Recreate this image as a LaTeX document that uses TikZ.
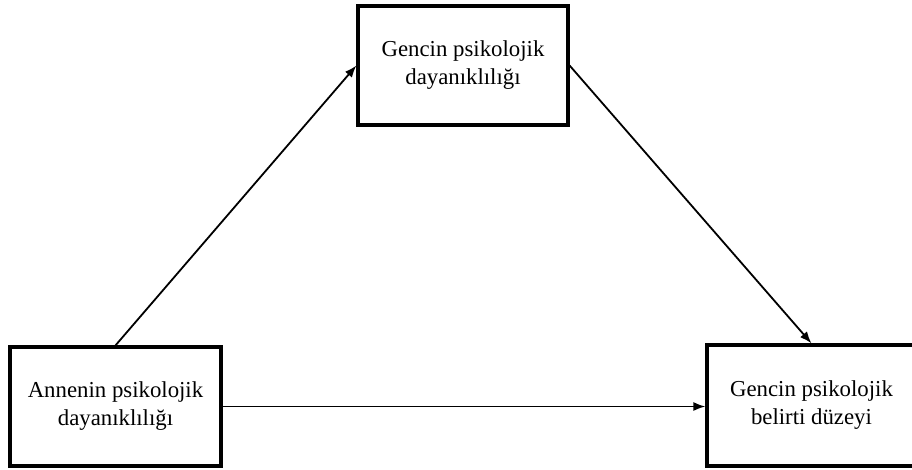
\documentclass[tikz,border=0pt]{standalone}
\usepackage{fontspec}
\setmainfont{Liberation Serif}
\usetikzlibrary{arrows.meta}
\tikzset{
  box/.style={draw=black, line width=3.2pt, rectangle, align=center, inner sep=0pt,
    font=\fontsize{22.8pt}{28pt}\selectfont},
  conn/.style={draw=black, line width=1.8pt, -{Latex[length=12pt,width=9pt]}}
}
\begin{document}
\begin{tikzpicture}[x=1pt,y=-1pt]
\clip (0,0) rectangle (912,470);
\fill[white] (0,0) rectangle (912,470);
\node[box, minimum width=210pt, minimum height=119pt] (top) at (463,65.5) {Gencin psikolojik\\dayanıklılığı};
\node[box, minimum width=211pt, minimum height=119pt] (left) at (115.5,406.5) {Annenin psikolojik\\dayanıklılığı};
\node[box, minimum width=209pt, minimum height=121pt] (right) at (811.5,405.5) {Gencin psikolojik\\belirti düzeyi};
\draw[conn] (left.north) -- (top.west);
\draw[conn] (top.east) -- (right.north);
\draw[conn] (left.east) -- (left.east -| right.west);
\end{tikzpicture}
\end{document}
